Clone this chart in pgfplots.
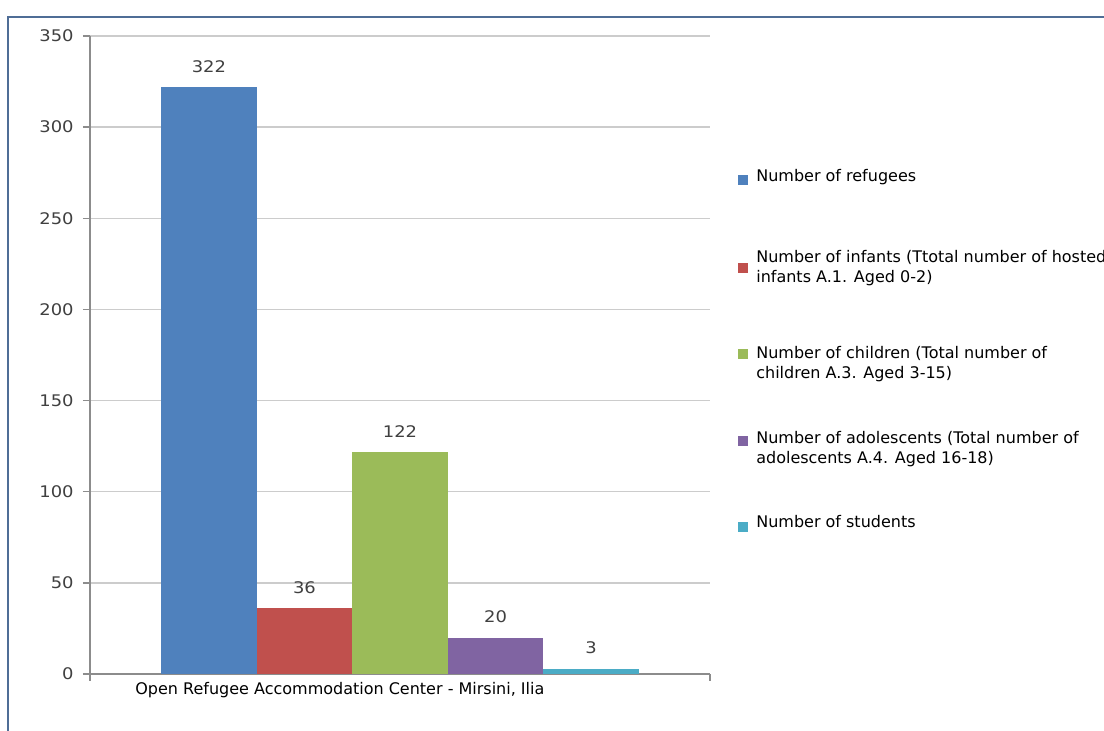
\documentclass[border=0pt]{standalone}
\usepackage{pgfplots}
\pgfplotsset{compat=1.18}
\usepackage{fontspec}
\setmainfont{DejaVu Sans}
\newfontfamily\widefont[FakeStretch=1.12]{DejaVu Sans}
\definecolor{c1}{RGB}{79,129,189}
\definecolor{c2}{RGB}{192,80,77}
\definecolor{c3}{RGB}{155,187,89}
\definecolor{c4}{RGB}{128,100,162}
\definecolor{c5}{RGB}{75,172,198}
\definecolor{frame}{RGB}{79,109,150}
\pgfplotsset{sq/.style={legend image code/.code={\fill[draw=none,##1] (0pt,#1-2.5pt) rectangle (5pt,#1+2.5pt);}}}
\begin{document}
\begin{tikzpicture}
\useasboundingbox (0,0) rectangle (552pt,365.5pt);
\clip (0,0) rectangle (552pt,365.5pt);
\fill[white] (0,0) rectangle (552pt,365.5pt);
\draw[frame, line width=1.2pt] (4pt,-5pt) -- (4pt,357pt) -- (560pt,357pt);
\begin{axis}[
  at={(45pt,28.5pt)}, anchor=south west,
  scale only axis, width=310pt, height=319pt,
  xmin=-3.245, xmax=3.245, ymin=0, ymax=350,
  ytick={0,50,...,350},
  xtick={-3.245,3.245}, xticklabels={},
  axis lines*=left,
  axis line style={black!45, line width=0.7pt},
  tick style={black!45, line width=0.7pt},
  tick align=outside, major tick length=3.5pt,
  ymajorgrids, grid style={black!20, line width=0.7pt},
  /pgf/number format/assume math mode=true,
  yticklabel style={font=\widefont\fontsize{8}{10}\selectfont, text=black!75, inner sep=0pt, xshift=-4.5pt},
  xlabel={Open Refugee Accommodation Center - Mirsini, Ilia},
  xlabel style={at={(axis description cs:0.403,0)}, anchor=center, yshift=-8pt, font=\fontsize{8}{10}\selectfont},
  nodes near coords,
  nodes near coords style={font=\widefont\fontsize{8}{10}\selectfont, text=black!75, anchor=south, inner sep=0pt, yshift=7pt},
  legend cell align=left,
  legend style={at={(rel axis cs:1.045,0.8137)}, anchor=north west, draw=none, fill=none, inner sep=0pt,
    font=\fontsize{8}{10}\selectfont, row sep=17.25pt, column sep=4pt,
    nodes={inner sep=0pt, align=left, text height=13pt, text depth=13pt}},
]
\addplot[ybar, bar width=1, bar shift=0, fill=c1, draw=none, sq=0.4pt] coordinates {(-2,322)};
\addlegendentry{Number of refugees}
\addplot[ybar, bar width=1, bar shift=0, fill=c2, draw=none, sq=-0.1pt] coordinates {(-1,36)};
\addlegendentry[text height=20.5pt, text depth=5.5pt]{Number of infants (Ttotal number of hosted\\infants A.1. Aged 0-2)}
\addplot[ybar, bar width=1, bar shift=0, fill=c3, draw=none, sq=-0.1pt] coordinates {(0,122)};
\addlegendentry[text height=25pt, text depth=1pt]{Number of children (Total number of\\children A.3. Aged 3-15)}
\addplot[ybar, bar width=1, bar shift=0, fill=c4, draw=none, sq=-0.1pt] coordinates {(1,20)};
\addlegendentry[text height=24.5pt, text depth=1.5pt]{Number of adolescents (Total number of\\adolescents A.4. Aged 16-18)}
\addplot[ybar, bar width=1, bar shift=0, fill=c5, draw=none, sq=-0.1pt] coordinates {(2,3)};
\addlegendentry{Number of students}
\end{axis}
\end{tikzpicture}
\end{document}
